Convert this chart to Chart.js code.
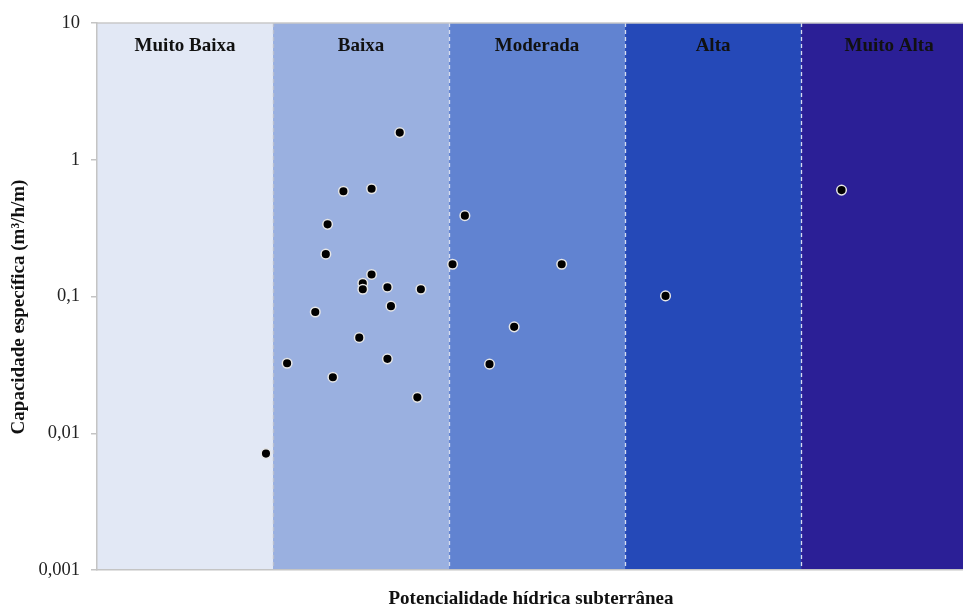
<!DOCTYPE html>
<html>
<head>
<meta charset="utf-8">
<script src="https://cdn.jsdelivr.net/npm/chart.js@4/dist/chart.umd.min.js"></script>
<style>
  html, body { margin: 0; padding: 0; background: #ffffff; overflow: hidden; }
  canvas { display: block; }
</style>
</head>
<body>
<canvas id="c" width="963" height="606"></canvas>
<script>
// Potentiality classes (one band per class along the x axis)
const classNames = ['Muito Baixa', 'Baixa', 'Moderada', 'Alta', 'Muito Alta'];
const classColors = ['#E2E8F5', '#9AB0E0', '#6183D1', '#2549B8', '#2B1F96'];

// Wells: position inside the class bands and specific capacity (m³/h/m)
const wellX = [0.96, 1.08, 1.24, 1.30, 1.31, 1.34, 1.40, 1.49, 1.51, 1.51, 1.56, 1.56,
               1.65, 1.65, 1.67, 1.72, 1.82, 1.84, 2.02, 2.09, 2.23, 2.37, 2.64, 3.23, 4.23];
const wellY = [0.0071, 0.0325, 0.077, 0.204, 0.337, 0.0257, 0.588, 0.050, 0.125, 0.113, 0.614, 0.145,
               0.117, 0.035, 0.085, 1.58, 0.0183, 0.113, 0.172, 0.39, 0.032, 0.060, 0.172, 0.101, 0.60];

// Decade ticks of the logarithmic axis
const tickValues = [0.001, 0.01, 0.1, 1, 10];
const tickLabels = ['0,001', '0,01', '0,1', '1', '10'];

const xTitle = 'Potencialidade hídrica subterrânea';
const yTitle = 'Capacidade específica (m³/h/m)';

const serif = '"Liberation Serif", "Times New Roman", serif';

const bandPlugin = {
  id: 'bands',
  beforeDraw(chart) {
    const { ctx, chartArea: a, scales } = chart;
    const xs = scales.x;
    ctx.save();
    classNames.forEach((name, i) => {
      const l = Math.max(xs.getPixelForValue(i), a.left);
      const r = Math.min(xs.getPixelForValue(i + 1), a.right);
      ctx.fillStyle = classColors[i];
      ctx.fillRect(l, a.top, r - l, a.bottom - a.top);
    });
    // dashed class separators
    ctx.lineWidth = 1.3;
    ctx.setLineDash([4, 3]);
    for (let i = 1; i < classNames.length; i++) {
      const px = Math.round(xs.getPixelForValue(i)) + 0.5;
      ctx.strokeStyle = i === 1 ? '#b8bfd0' : '#d6dcef';
      ctx.beginPath();
      ctx.moveTo(px, a.top);
      ctx.lineTo(px, a.bottom);
      ctx.stroke();
    }
    ctx.setLineDash([]);
    // top frame line
    ctx.strokeStyle = '#c8c8c8';
    ctx.lineWidth = 1.5;
    ctx.beginPath();
    ctx.moveTo(a.left, a.top);
    ctx.lineTo(a.right, a.top);
    ctx.stroke();
    ctx.restore();
  },
  afterDatasetsDraw(chart) {
    const { ctx, chartArea: a, scales } = chart;
    const xs = scales.x;
    ctx.save();
    ctx.font = 'bold 19px ' + serif;
    ctx.fillStyle = '#111111';
    ctx.textAlign = 'center';
    ctx.textBaseline = 'middle';
    classNames.forEach((name, i) => {
      const cx = xs.getPixelForValue(i + 0.5);
      ctx.fillText(name, cx, a.top + 23);
    });
    // axis titles
    ctx.fillText(xTitle, 531, 599);
    ctx.translate(19, 307);
    ctx.rotate(-Math.PI / 2);
    ctx.fillText(yTitle, 0, 0);
    ctx.restore();
  }
};

new Chart(document.getElementById('c'), {
  type: 'scatter',
  data: {
    datasets: [{
      data: wellX.map((x, i) => ({ x: x, y: wellY[i] })),
      backgroundColor: '#000000',
      borderColor: '#e6e6e6',
      borderWidth: 1.5,
      pointRadius: 4.8,
      pointHoverRadius: 4.8
    }]
  },
  options: {
    responsive: false,
    animation: false,
    events: [],
    layout: { autoPadding: false, padding: { top: 23, left: 0, right: 0, bottom: 0 } },
    plugins: { legend: { display: false }, tooltip: { enabled: false } },
    scales: {
      x: {
        type: 'linear',
        min: 0,
        max: 4.92,
        afterFit(scale) { scale.height = 36; scale.paddingRight = 0; scale.paddingLeft = 0; },
        ticks: { display: false },
        grid: { display: false, drawTicks: false },
        border: { display: true, color: '#c4c4c4', width: 1.5 }
      },
      y: {
        type: 'logarithmic',
        min: 0.001,
        max: 10,
        afterFit(scale) { scale.width = 97; },
        afterBuildTicks(scale) { scale.ticks = tickValues.map(v => ({ value: v })); },
        ticks: {
          callback(value) {
            const i = tickValues.findIndex(t => Math.abs(t - value) / t < 1e-6);
            return i >= 0 ? tickLabels[i] : null;
          },
          font: { family: serif, size: 18.5 },
          color: '#222222',
          padding: 11,
          autoSkip: false
        },
        grid: { drawOnChartArea: false, drawTicks: true, tickLength: 6, color: '#c4c4c4', lineWidth: 1.5 },
        border: { display: true, color: '#c4c4c4', width: 1.5 }
      }
    }
  },
  plugins: [bandPlugin]
});
</script>
</body>
</html>
